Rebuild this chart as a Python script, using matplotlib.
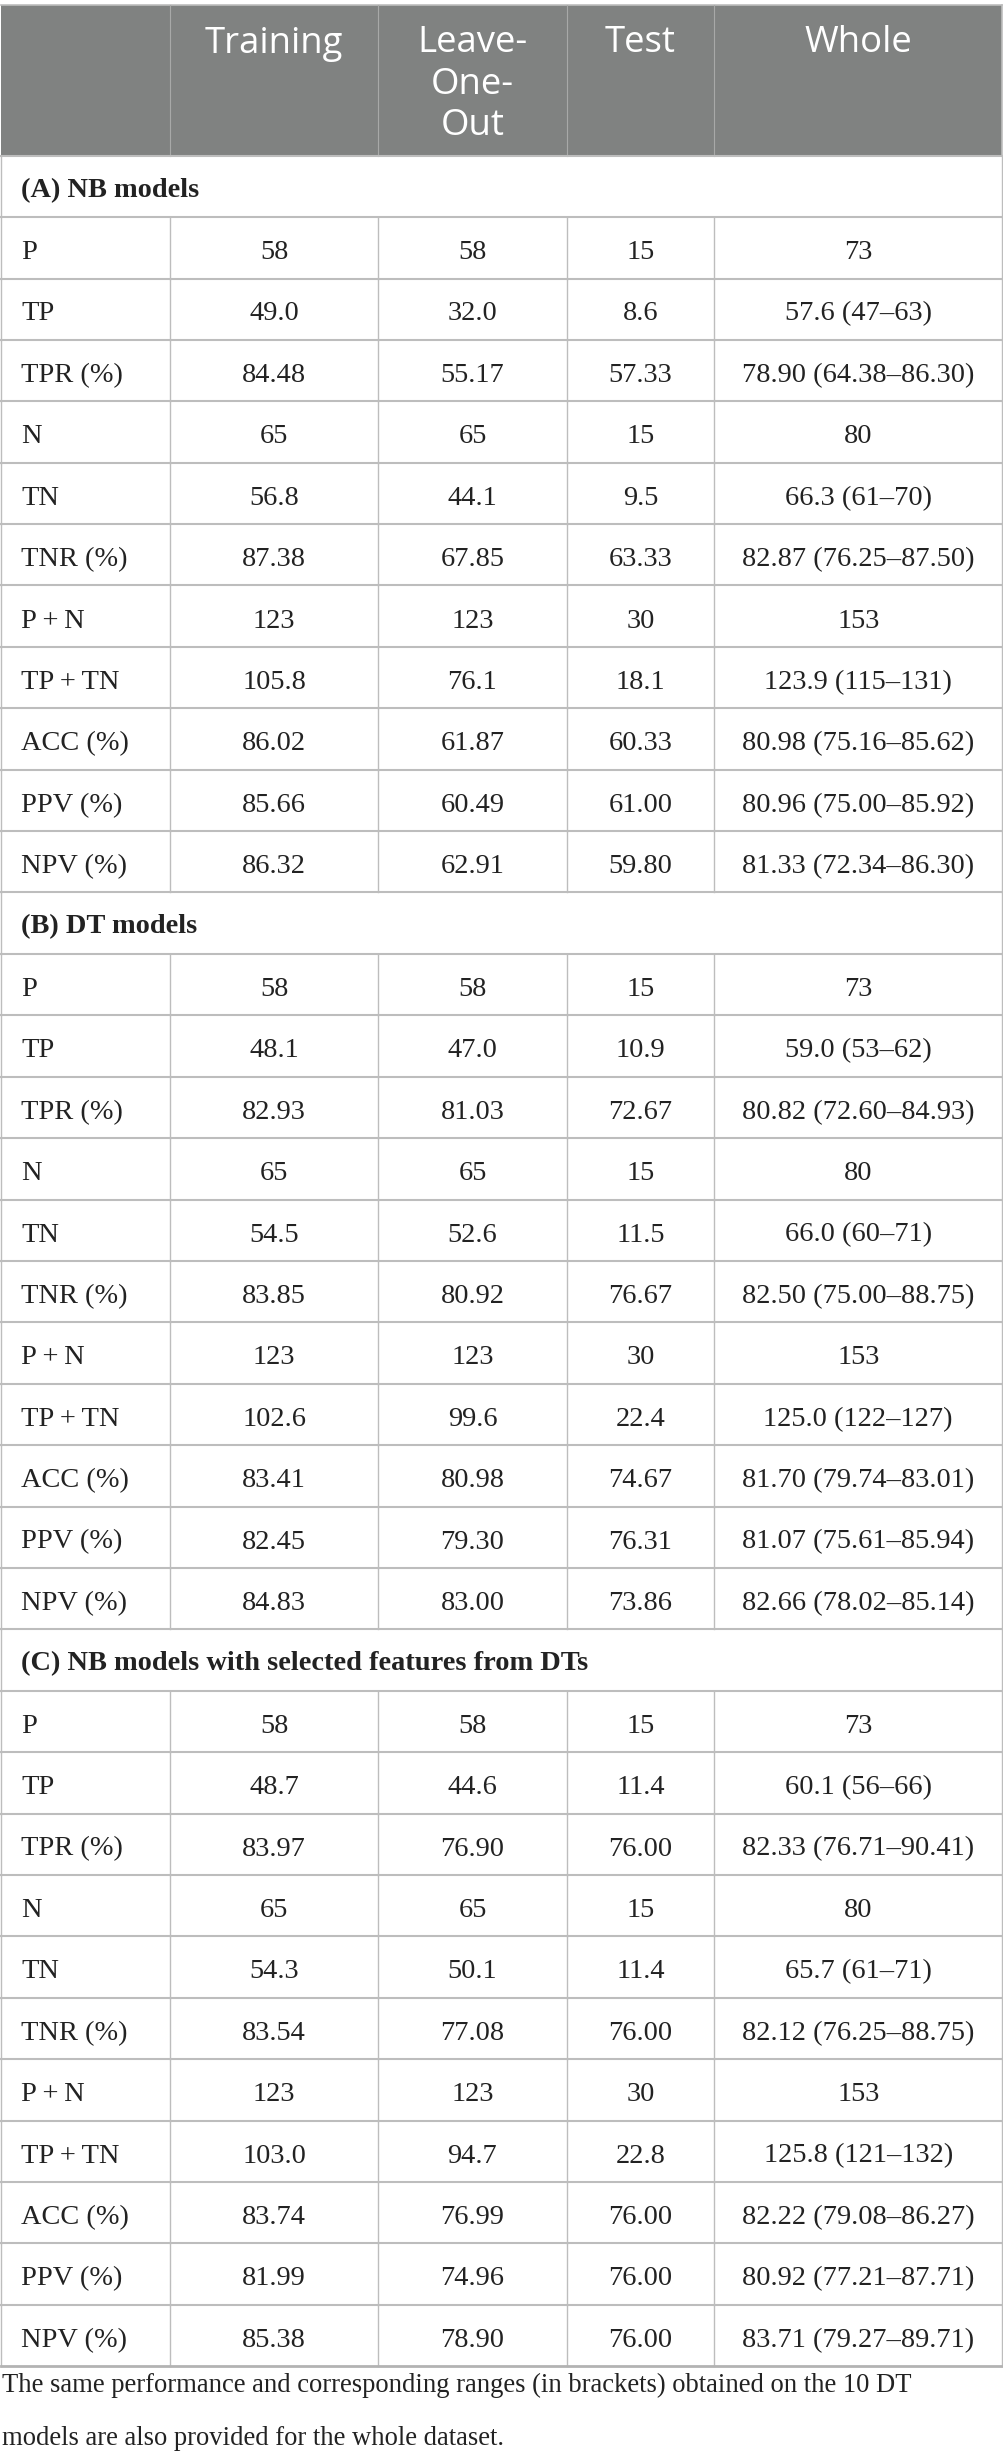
import matplotlib
matplotlib.use("Agg")
import matplotlib.pyplot as plt

# ---------------- data ----------------
col_headers = [["Training"], ["Leave-", "One-", "Out"], ["Test"], ["Whole"]]
row_labels = ["P", "TP", "TPR (%)", "N", "TN", "TNR (%)", "P\u2009+\u2009N",
              "TP\u2009+\u2009TN", "ACC (%)", "PPV (%)", "NPV (%)"]
section_titles = ["(A) NB models", "(B) DT models",
                  "(C) NB models with selected features from DTs"]

training_A = ["58", "49.0", "84.48", "65", "56.8", "87.38", "123", "105.8", "86.02", "85.66", "86.32"]
loo_A      = ["58", "32.0", "55.17", "65", "44.1", "67.85", "123", "76.1", "61.87", "60.49", "62.91"]
test_A     = ["15", "8.6", "57.33", "15", "9.5", "63.33", "30", "18.1", "60.33", "61.00", "59.80"]
whole_A    = ["73", "57.6 (47–63)", "78.90 (64.38–86.30)", "80", "66.3 (61–70)",
              "82.87 (76.25–87.50)", "153", "123.9 (115–131)", "80.98 (75.16–85.62)",
              "80.96 (75.00–85.92)", "81.33 (72.34–86.30)"]

training_B = ["58", "48.1", "82.93", "65", "54.5", "83.85", "123", "102.6", "83.41", "82.45", "84.83"]
loo_B      = ["58", "47.0", "81.03", "65", "52.6", "80.92", "123", "99.6", "80.98", "79.30", "83.00"]
test_B     = ["15", "10.9", "72.67", "15", "11.5", "76.67", "30", "22.4", "74.67", "76.31", "73.86"]
whole_B    = ["73", "59.0 (53–62)", "80.82 (72.60–84.93)", "80", "66.0 (60–71)",
              "82.50 (75.00–88.75)", "153", "125.0 (122–127)", "81.70 (79.74–83.01)",
              "81.07 (75.61–85.94)", "82.66 (78.02–85.14)"]

training_C = ["58", "48.7", "83.97", "65", "54.3", "83.54", "123", "103.0", "83.74", "81.99", "85.38"]
loo_C      = ["58", "44.6", "76.90", "65", "50.1", "77.08", "123", "94.7", "76.99", "74.96", "78.90"]
test_C     = ["15", "11.4", "76.00", "15", "11.4", "76.00", "30", "22.8", "76.00", "76.00", "76.00"]
whole_C    = ["73", "60.1 (56–66)", "82.33 (76.71–90.41)", "80", "65.7 (61–71)",
              "82.12 (76.25–88.75)", "153", "125.8 (121–132)", "82.22 (79.08–86.27)",
              "80.92 (77.21–87.71)", "83.71 (79.27–89.71)"]

caption_lines = ["The same performance and corresponding ranges (in brackets) obtained on the 10 DT",
                 "models are also provided for the whole dataset."]

sections = [
    (section_titles[0], [training_A, loo_A, test_A, whole_A]),
    (section_titles[1], [training_B, loo_B, test_B, whole_B]),
    (section_titles[2], [training_C, loo_C, test_C, whole_C]),
]

# ---------------- layout ----------------
W, H = 1004, 2455
fig = plt.figure(figsize=(W / 100, H / 100), dpi=100)
ax = fig.add_axes([0, 0, 1, 1])
ax.set_xlim(0, W)
ax.set_ylim(H, 0)
ax.axis("off")

col_edges = [1, 170.5, 378, 567, 714, 1002.5]
top = 4.5
header_bottom = 155.7
row_h = 61.4
header_bg = "#808281"
line_c = "#bdbdbd"
txt_c = "#222222"
serif = ["Liberation Serif", "DejaVu Serif"]
sans = ["Open Sans", "DejaVu Sans"]
fs_body = 20.4
fs_caption = 19.2
fs_head = 26.3

# header
ax.fill_between([col_edges[0], col_edges[-1]], top, header_bottom, color=header_bg, lw=0, zorder=0)
for j, lines in enumerate(col_headers):
    cx = (col_edges[j + 1] + col_edges[j + 2]) / 2
    for k, t in enumerate(lines):
        ax.text(cx, 52.5 + k * 41.3, t, ha="center", va="baseline", color="white",
                fontsize=fs_head, family=sans)

# header lines
ax.plot([col_edges[0], col_edges[-1]], [top, top], color=line_c, lw=1.2)
for x in col_edges[1:-1]:
    ax.plot([x, x], [top, header_bottom], color="#a8a9a8", lw=0.8)
ax.plot([col_edges[-1], col_edges[-1]], [top, header_bottom], color=line_c, lw=1.2)

y = header_bottom
for title, cols in sections:
    # section row
    ax.text(21, y + 41, title, ha="left", va="baseline", fontsize=fs_body,
            family=serif, fontweight="bold", color=txt_c)
    ax.plot([col_edges[0], col_edges[0]], [y, y + row_h], color=line_c, lw=1.0)
    ax.plot([col_edges[-1], col_edges[-1]], [y, y + row_h], color=line_c, lw=1.0)
    ax.plot([col_edges[0], col_edges[-1]], [y, y], color=line_c, lw=1.5)
    y += row_h
    for i, lab in enumerate(row_labels):
        ax.plot([col_edges[0], col_edges[-1]], [y, y], color=line_c, lw=1.5)
        for x in col_edges:
            ax.plot([x, x], [y, y + row_h], color=line_c, lw=1.0)
        ax.text(21, y + 42, lab, ha="left", va="baseline", fontsize=fs_body,
                family=serif, color=txt_c)
        for j, vals in enumerate(cols):
            cx = (col_edges[j + 1] + col_edges[j + 2]) / 2
            ax.text(cx, y + 42, vals[i], ha="center", va="baseline", fontsize=fs_body,
                    family=serif, color=txt_c)
        y += row_h

ax.plot([col_edges[0], col_edges[-1]], [y, y], color="#b3b3b3", lw=2.0)

# caption
ax.text(2, 2391.5, caption_lines[0], ha="left", va="baseline", fontsize=fs_caption,
        family=serif, color=txt_c)
ax.text(2, 2445, caption_lines[1], ha="left", va="baseline", fontsize=fs_caption,
        family=serif, color=txt_c)

fig.savefig("out.png", dpi=100)
